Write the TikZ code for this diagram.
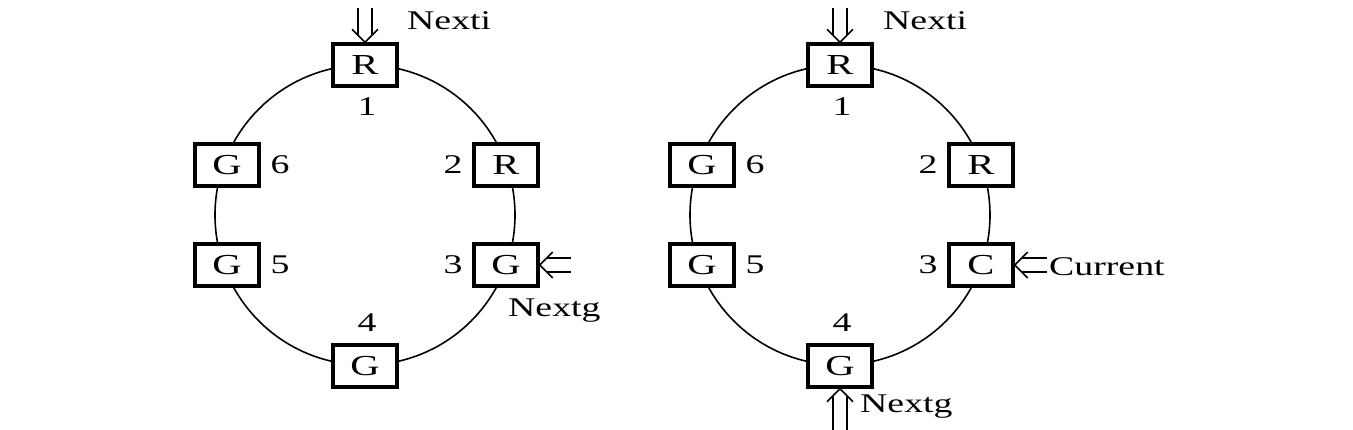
\documentclass[tikz,border=0pt]{standalone}
\usepackage{fontspec}
\setmainfont{Liberation Serif}[FakeStretch=1.4]
\usetikzlibrary{calc}
\begin{document}
\begin{tikzpicture}[x=1pt,y=-1pt,
  cell/.style={draw, line width=3.4pt, fill=white, minimum width=64pt, minimum height=42pt, inner sep=0pt, font=\fontsize{29}{30}\selectfont},
  lbl/.style={inner sep=0pt, font=\fontsize{27}{30}\selectfont},
  ring/.style={line width=1.6pt},
  ptr/.style={double, line width=1.6pt, double distance=12.5pt, shorten >=7pt},
  head/.style={line width=1.6pt, line join=miter}
]
\useasboundingbox (0,0) rectangle (1353,430);
% ---------- left ----------
\coordinate (Lc) at (365,215);
\draw[ring] (Lc) circle[radius=150pt];
\node[cell] (L1) at (365,65) {R};
\node[cell] (L2) at (506,165) {R};
\node[cell] (L3) at (506,265) {G};
\node[cell] (L4) at (365,366) {G};
\node[cell] (L5) at (227,265) {G};
\node[cell] (L6) at (227,165) {G};
\node[lbl] (Ln1) at (367,107) {1};
\node[lbl] (Ln2) at (453,165) {2};
\node[lbl] (Ln3) at (453,265) {3};
\node[lbl] (Ln4) at (367,323) {4};
\node[lbl] (Ln5) at (280,265) {5};
\node[lbl] (Ln6) at (280,165) {6};
\coordinate (Lia) at (365,8);
\draw[ptr] (Lia) -- (L1.north);
\draw[head] ($(L1.north)+(-13,-13)$) -- (L1.north) -- ($(L1.north)+(13,-13)$);
\node[lbl, anchor=west] (Lnexti) at (407,21) {Nexti};
\coordinate (Lga) at (571,265);
\draw[ptr] (Lga) -- (L3.east);
\draw[head] ($(L3.east)+(13,-13)$) -- (L3.east) -- ($(L3.east)+(13,13)$);
\node[lbl, anchor=west] (Lnextg) at (508,311) {Nextg};
% ---------- right ----------
\coordinate (Rc) at (840,215);
\draw[ring] (Rc) circle[radius=150pt];
\node[cell] (R1) at (840,65) {R};
\node[cell] (R2) at (981,165) {R};
\node[cell] (R3) at (981,265) {C};
\node[cell] (R4) at (840,366) {G};
\node[cell] (R5) at (702,265) {G};
\node[cell] (R6) at (702,165) {G};
\node[lbl] (Rn1) at (842,107) {1};
\node[lbl] (Rn2) at (928,165) {2};
\node[lbl] (Rn3) at (928,265) {3};
\node[lbl] (Rn4) at (842,323) {4};
\node[lbl] (Rn5) at (755,265) {5};
\node[lbl] (Rn6) at (755,165) {6};
\coordinate (Ria) at (840,8);
\draw[ptr] (Ria) -- (R1.north);
\draw[head] ($(R1.north)+(-13,-13)$) -- (R1.north) -- ($(R1.north)+(13,-13)$);
\node[lbl, anchor=west] (Rnexti) at (883,21) {Nexti};
\coordinate (Rca) at (1047,265);
\draw[ptr] (Rca) -- (R3.east);
\draw[head] ($(R3.east)+(13,-13)$) -- (R3.east) -- ($(R3.east)+(13,13)$);
\node[lbl, anchor=west] (Rcur) at (1049,267) {Current};
\coordinate (Rga) at (840,432);
\draw[ptr] (Rga) -- (R4.south);
\draw[head] ($(R4.south)+(-13,13)$) -- (R4.south) -- ($(R4.south)+(13,13)$);
\node[lbl, anchor=west] (Rnextg) at (860,407) {Nextg};
\end{tikzpicture}
\end{document}
